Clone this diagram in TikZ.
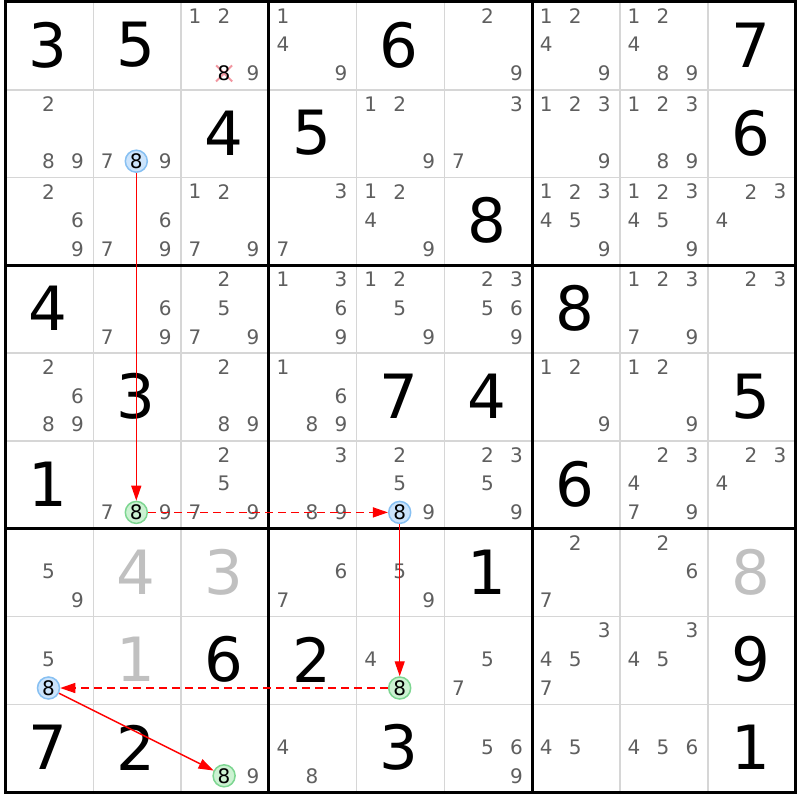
\documentclass[tikz,border=0pt]{standalone}
\usepackage{fontspec}
\setmainfont{DejaVu Sans}
\usepackage{xcolor}
\definecolor{candgray}{RGB}{95,95,95}
\definecolor{givengray}{RGB}{192,192,192}
\definecolor{gridgray}{RGB}{214,214,214}
\definecolor{bluefill}{RGB}{204,228,252}
\definecolor{bluedraw}{RGB}{135,192,242}
\definecolor{greenfill}{RGB}{204,242,210}
\definecolor{greendraw}{RGB}{125,214,145}
\definecolor{crosspink}{RGB}{242,150,160}
\usepackage{tikz}
\usetikzlibrary{arrows.meta, positioning}
\tikzset{
	given/.style={inner sep=0pt, text=black, font=\fontsize{61}{61}\selectfont},
	hint/.style={given, text=givengray},
	cand/.style={inner sep=0pt, text=candgray, font=\fontsize{20}{20}\selectfont},
	bluemark/.style={cand, circle, minimum size=22pt, text=black, fill=bluefill, draw=bluedraw, line width=1.5pt},
	greenmark/.style={cand, circle, minimum size=22pt, text=black, fill=greenfill, draw=greendraw, line width=1.5pt}
}
\tikzset{
	strong/.style={red, line width=1.4pt, -{Triangle[length=15pt, width=10pt]}},
	weak/.style={strong, dash pattern=on 8pt off 5pt}
}

\begin{document}
\begin{tikzpicture}[x=1pt, y=-1pt]
		\newcommand{\cellsize}{87.8}
		\newcommand{\gridleft}{5.5}
		\newcommand{\gridtop}{2}
		\useasboundingbox (0,0) rectangle (800,800);
		\fill[white] (0,0) rectangle (800,800);

		% thin cell lines
		\foreach \i in {1,...,8} {
			\draw[gridgray, line width=1.5pt] ({\gridleft + \i*\cellsize}, \gridtop) -- ({\gridleft + \i*\cellsize}, {\gridtop + 9*\cellsize});
			\draw[gridgray, line width=1.5pt] (\gridleft, {\gridtop + \i*\cellsize}) -- ({\gridleft + 9*\cellsize}, {\gridtop + \i*\cellsize});
		}

		% box lines
		\foreach \i in {3,6} {
			\draw[black, line width=3pt] ({\gridleft + \i*\cellsize}, \gridtop) -- ({\gridleft + \i*\cellsize}, {\gridtop + 9*\cellsize});
			\draw[black, line width=3pt] (\gridleft, {\gridtop + \i*\cellsize}) -- ({\gridleft + 9*\cellsize}, {\gridtop + \i*\cellsize});
		}
		\draw[black, line width=3pt] (\gridleft, \gridtop) rectangle ({\gridleft + 9*\cellsize}, {\gridtop + 9*\cellsize});

		% givens
		\foreach \r/\c/\d in {0/0/3, 0/1/5, 0/4/6, 0/8/7, 1/2/4, 1/3/5, 1/8/6, 2/5/8, 3/0/4, 3/6/8,
				4/1/3, 4/4/7, 4/5/4, 4/8/5, 5/0/1, 5/6/6, 6/5/1, 7/2/6, 7/3/2, 7/8/9, 8/0/7, 8/1/2, 8/4/3, 8/8/1}
			\node[given] (g\r\c) at ({\gridleft + \c*\cellsize + 42.6}, {\gridtop + \r*\cellsize + 43}) {\d};

		% solved values
		\foreach \r/\c/\d in {6/1/4, 6/2/3, 6/8/8, 7/1/1}
			\node[hint] (g\r\c) at ({\gridleft + \c*\cellsize + 42.6}, {\gridtop + \r*\cellsize + 43}) {\d};

		% eliminated candidate
		\draw[crosspink, line width=2pt] (216.1,65.4) -- (232.1,81.4);
		\draw[crosspink, line width=2pt] (216.1,81.4) -- (232.1,65.4);
		\node[cand, text=black] (x02) at ({\gridleft + 2*\cellsize + 43}, {\gridtop + 71.4}) {8};

		% candidates
		\foreach \r/\c/\ds in {0/2/{1,2,9}, 0/3/{1,4,9}, 0/5/{2,9}, 0/6/{1,2,4,9}, 0/7/{1,2,4,8,9},
				1/0/{2,8,9}, 1/1/{7,9}, 1/4/{1,2,9}, 1/5/{3,7}, 1/6/{1,2,3,9}, 1/7/{1,2,3,8,9},
				2/0/{2,6,9}, 2/1/{6,7,9}, 2/2/{1,2,7,9}, 2/3/{3,7}, 2/4/{1,2,4,9}, 2/6/{1,2,3,4,5,9}, 2/7/{1,2,3,4,5,9}, 2/8/{2,3,4},
				3/1/{6,7,9}, 3/2/{2,5,7,9}, 3/3/{1,3,6,9}, 3/4/{1,2,5,9}, 3/5/{2,3,5,6,9}, 3/7/{1,2,3,7,9}, 3/8/{2,3},
				4/0/{2,6,8,9}, 4/2/{2,8,9}, 4/3/{1,6,8,9}, 4/6/{1,2,9}, 4/7/{1,2,9},
				5/1/{7,9}, 5/2/{2,5,7,9}, 5/3/{3,8,9}, 5/4/{2,5,9}, 5/5/{2,3,5,9}, 5/7/{2,3,4,7,9}, 5/8/{2,3,4},
				6/0/{5,9}, 6/3/{6,7}, 6/4/{5,9}, 6/6/{2,7}, 6/7/{2,6},
				7/0/{5}, 7/4/{4}, 7/5/{5,7}, 7/6/{3,4,5,7}, 7/7/{3,4,5},
				8/2/{9}, 8/3/{4,8}, 8/5/{5,6,9}, 8/6/{4,5}, 8/7/{4,5,6}} {
			\foreach \d in \ds {
				\pgfmathtruncatemacro{\pc}{mod(\d-1,3)}
				\pgfmathtruncatemacro{\pr}{(\d-1)/3}
				\node[cand] (n\r\c\d) at ({\gridleft + \c*\cellsize + 14 + 29*\pc}, {\gridtop + \r*\cellsize + 14 + 28.7*\pr}) {\d};
			}
		}

		% chain of eights
		\foreach \r/\c/\s in {1/1/bluemark, 5/1/greenmark, 5/4/bluemark, 7/4/greenmark, 7/0/bluemark, 8/2/greenmark}
			\node[\s] (h\r\c) at ({\gridleft + \c*\cellsize + 43}, {\gridtop + \r*\cellsize + 71.4}) {8};

		% links
		\draw[strong] (h11) -- (h51);
		\draw[weak] (h51) -- (h54);
		\draw[strong] (h54) -- (h74);
		\draw[weak] (h74) -- (h70);
		\draw[strong] (h70) -- (h82);

	\end{tikzpicture}
\end{document}
